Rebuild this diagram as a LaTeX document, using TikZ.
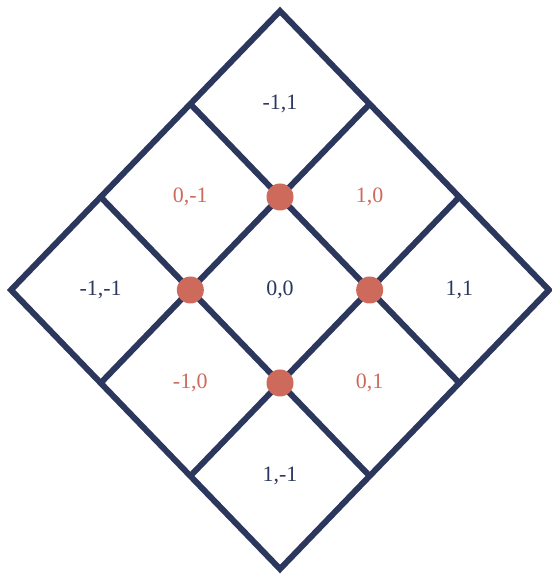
\documentclass[tikz,border=0pt]{standalone}
\usepackage{fontspec}
\setmainfont{Liberation Serif}
\definecolor{gridnavy}{RGB}{44,55,94}
\definecolor{dotsalmon}{RGB}{206,106,92}

\begin{document}
\begin{tikzpicture}[font=\fontsize{12.5}{14}\selectfont, line join=miter]
\useasboundingbox (0,0) rectangle (11.04,11.52);
\begin{scope}[shift={(0.22,5.72)}, x={(1.7933cm,1.86cm)}, y={(1.7933cm,-1.86cm)}]
\draw[gridnavy, line width=3.4pt] (0,0) -- (3,0) -- (3,3) -- (0,3) -- cycle;
\draw[gridnavy, line width=3.4pt] (1,0) -- (1,3);
\draw[gridnavy, line width=3.4pt] (2,0) -- (2,3);
\draw[gridnavy, line width=3.4pt] (0,1) -- (3,1);
\draw[gridnavy, line width=3.4pt] (0,2) -- (3,2);
\fill[dotsalmon] (1,1) circle (0.27cm);
\fill[dotsalmon] (2,1) circle (0.27cm);
\fill[dotsalmon] (1,2) circle (0.27cm);
\fill[dotsalmon] (2,2) circle (0.27cm);
\node[text=gridnavy] (top) at (2.5,0.5) {-1,1};
\node[text=gridnavy] (left) at (0.5,0.5) {-1,-1};
\node[text=gridnavy] (right) at (2.5,2.5) {1,1};
\node[text=gridnavy] (bottom) at (0.5,2.5) {1,-1};
\node[text=gridnavy] (mid) at (1.5,1.5) {0,0};
\node[text=dotsalmon] (upleft) at (1.5,0.5) {0,-1};
\node[text=dotsalmon] (upright) at (2.5,1.5) {1,0};
\node[text=dotsalmon] (lowleft) at (0.5,1.5) {-1,0};
\node[text=dotsalmon] (lowright) at (1.5,2.5) {0,1};
\end{scope}
\end{tikzpicture}
\end{document}
